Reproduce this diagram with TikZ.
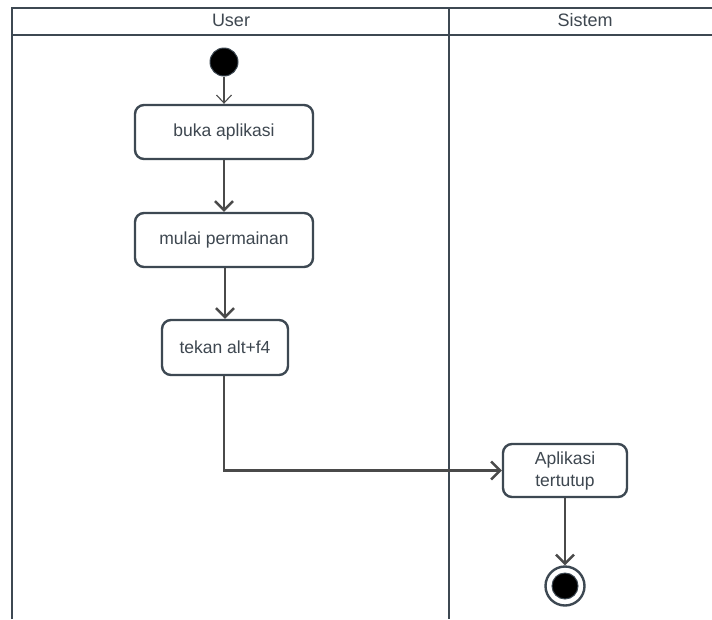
\documentclass[tikz,border=0pt]{standalone}
\usepackage{fontspec}
\setmainfont{Liberation Sans}
\usetikzlibrary{arrows.meta}
\definecolor{lane}{HTML}{3D4852}
\definecolor{txt}{HTML}{3E4750}
\definecolor{flow}{HTML}{4A4A4A}
\tikzset{
  act/.style={draw=lane, line width=2.4pt, rounded corners=9pt, fill=white, align=center,
    font=\fontsize{17.5}{22}\selectfont, text=txt, inner sep=0pt},
  flowline/.style={draw=flow, line width=2.5pt, -{Straight Barb[length=9pt,width=18pt,line width=2.5pt]}},
  thinflow/.style={draw=flow, line width=1.1pt, -{Straight Barb[length=8pt,width=15pt,line width=1.1pt]}},
  lanel/.style={draw=lane, line width=2.4pt},
  hdr/.style={font=\fontsize{18}{21}\selectfont, text=txt}
}
\begin{document}
\begin{tikzpicture}[x=1pt,y=-1pt]
\useasboundingbox (0,0) rectangle (712,619);
\fill[white] (0,0) rectangle (712,619);
% swimlanes
\draw[lanel] (12,619) -- (12,8) -- (714,8);
\draw[lanel] (12,35) -- (714,35);
\draw[lanel] (449,8) -- (449,619);
\node[hdr] (hu) at (231,20) {User};
\node[hdr] (hs) at (585,20) {Sistem};
% nodes
\node[circle, fill=black, draw=lane, line width=1pt, minimum size=28pt, inner sep=0pt] (start) at (224,62) {};
\node[act, minimum width=178pt, minimum height=54pt] (a1) at (224,132) {buka aplikasi};
\node[act, minimum width=178pt, minimum height=54pt] (a2) at (224,240) {mulai permainan};
\node[act, minimum width=126pt, minimum height=55pt] (a3) at (225,347.5) {tekan alt+f4};
\node[act, minimum width=124pt, minimum height=53pt] (a4) at (565,470.5) {Aplikasi\\tertutup};
\node[circle, draw=lane, line width=2.4pt, fill=white, minimum size=39pt, inner sep=0pt] (endo) at (565,586) {};
\node[circle, fill=black, draw=lane, line width=1pt, minimum size=26pt, inner sep=0pt] (endi) at (endo) {};
% flows
\draw[thinflow] (start) -- (a1);
\draw[flowline] (a1) -- (a2);
\draw[flowline] (a2.south -| a3.north) -- (a3.north);
\draw[flowline] (a3.south -| 224,0) |- (a4.west);
\draw[flowline] (a4) -- (endo);
\end{tikzpicture}
\end{document}
